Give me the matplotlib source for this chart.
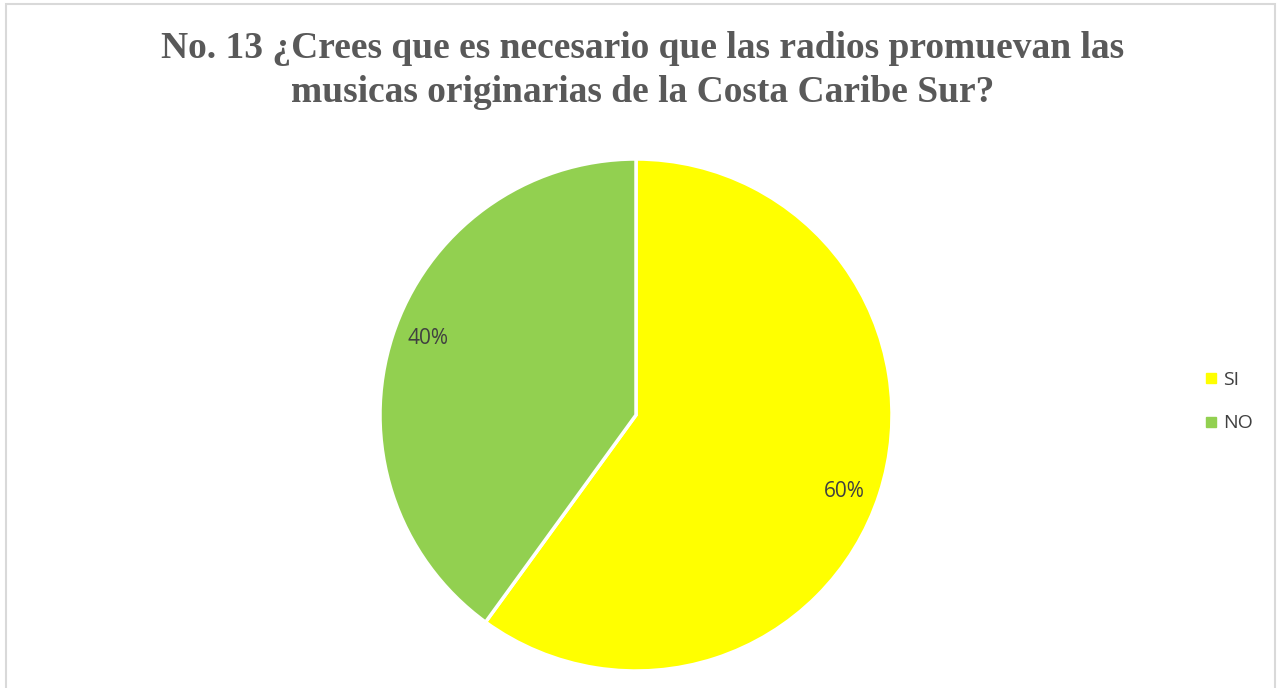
import numpy as np
import matplotlib.pyplot as plt
from matplotlib.lines import Line2D
from matplotlib.patches import Rectangle

# Survey answers, question 13
categories = ["SI", "NO"]
shares = [60, 40]
colors = ["#FFFF00", "#92D050"]

title_lines = ["No. 13 ¿Crees que es necesario que las radios promuevan las",
               "musicas originarias de la Costa Caribe Sur?"]

W, H = 1281, 688
fig = plt.figure(figsize=(W / 100, H / 100), dpi=100)

# chart frame
fig.patches.append(Rectangle((6 / W, -0.01), (1274.5 - 6) / W, 684 / H + 0.01,
                             transform=fig.transFigure, fill=False,
                             edgecolor="#d9d9d9", linewidth=1.5))

# title, one baseline per line
for line, base in zip(title_lines, [58, 102]):
    fig.text(643 / W, 1 - base / H, line, ha="center", va="baseline",
             family="Liberation Serif", fontweight="bold", fontsize=27,
             color="#595959")

# pie centred at (636, 415) px with radius 256 px
cx, cy, r = 636, 415, 256
ax = fig.add_axes([(cx - r) / W, (H - cy - r) / H, 2 * r / W, 2 * r / H])
wedges, texts, autotexts = ax.pie(
    shares, colors=colors, startangle=90, counterclock=False,
    autopct="%d%%", pctdistance=0.865,
    wedgeprops=dict(edgecolor="white", linewidth=2.5),
    textprops=dict(family="Open Sans", fontsize=15, color="#404040"),
)
# labels sit a little clockwise of the wedge middle
rot = np.deg2rad(-2.2)
for t in autotexts:
    x, y = t.get_position()
    t.set_position((x * np.cos(rot) - y * np.sin(rot),
                    x * np.sin(rot) + y * np.cos(rot)))
ax.set_xlim(-1, 1)
ax.set_ylim(-1, 1)
ax.set_aspect("equal")
ax.axis("off")

handles = [Line2D([], [], marker="s", linestyle="none", markersize=6.5,
                  markerfacecolor=c, markeredgecolor=c) for c in colors]
fig.legend(handles, categories, loc="center left",
           bbox_to_anchor=(1203 / W, 1 - 401.75 / H), frameon=False,
           borderaxespad=0, borderpad=0,
           prop=dict(family="Open Sans", size=14), labelcolor="#404040",
           handlelength=0.8, handletextpad=0.23, labelspacing=1.3)

fig.savefig("out.png", dpi=100, facecolor="white")
